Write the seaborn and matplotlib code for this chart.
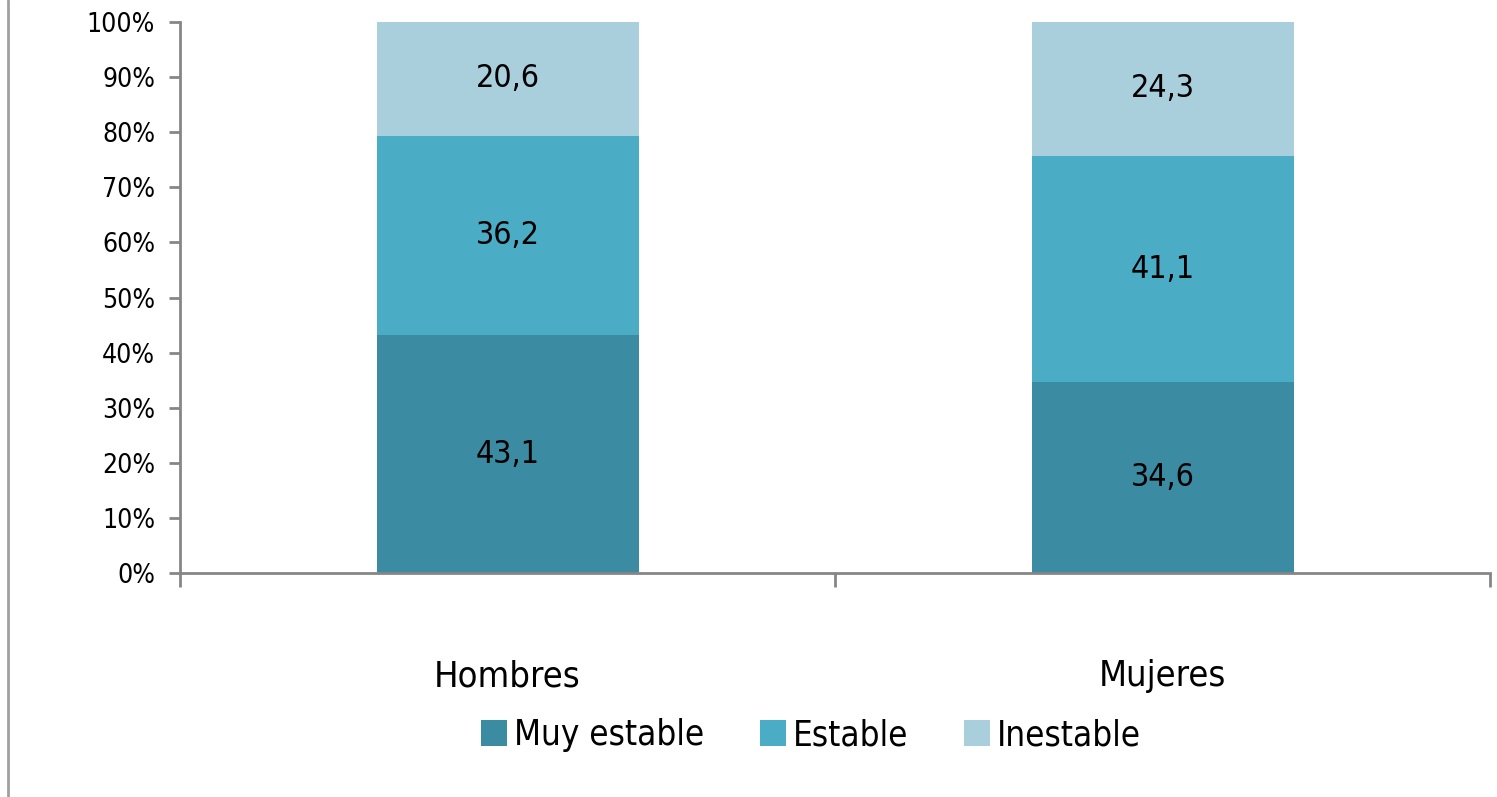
import matplotlib
matplotlib.use("Agg")
import matplotlib.pyplot as plt
import seaborn as sns
import numpy as np
import pandas as pd
from matplotlib.lines import Line2D
from matplotlib.patches import Patch

categories = ["Hombres", "Mujeres"]
series_names = ["Muy estable", "Estable", "Inestable"]
muy_estable = [43.1, 34.6]
estable = [36.2, 41.1]
inestable = [20.6, 24.3]
colors = ["#3B8BA3", "#4BACC6", "#A9CFDD"]
ytick_labels = ["0%", "10%", "20%", "30%", "40%", "50%", "60%", "70%", "80%", "90%", "100%"]

sns.set_theme(style="white")
plt.rcParams['font.family'] = ['DejaVu Sans']
plt.rcParams['font.stretch'] = 'condensed'
plt.rcParams['text.color'] = 'black'
plt.rcParams['xtick.labelcolor'] = 'black'
plt.rcParams['ytick.labelcolor'] = 'black'

fig = plt.figure(figsize=(14.97, 7.97), dpi=100)
ax = fig.add_axes([180/1497, 1-573/797, (1490-180)/1497, (573-22)/797])

vals = np.array([muy_estable, estable, inestable])
totals = vals.sum(axis=0)
pct = vals / totals * 100
cum = np.cumsum(pct, axis=0)

# draw from top cumulative to bottom so lower layers cover upper ones
for i in reversed(range(3)):
    df = pd.DataFrame({"cat": categories, "v": cum[i]})
    sns.barplot(data=df, x="cat", y="v", color=colors[i], width=0.4,
                saturation=1, ax=ax, linewidth=0)

for i in range(3):
    for j in range(2):
        base = cum[i][j] - pct[i][j]
        ax.text(j, base + pct[i][j] / 2, f"{vals[i][j]:.1f}".replace(".", ","),
                ha="center", va="center", fontsize=23, color="black")

ax.set_xlim(-0.5, 1.5)
ax.set_ylim(0, 100)
ax.set_yticks(np.arange(0, 101, 10))
ax.set_yticklabels(ytick_labels, fontsize=19)
ax.set_xticks([0, 1])
ax.set_xticklabels(categories, fontsize=26)
ax.set_xticks([-0.5, 0.5, 1.5], minor=True)
ax.set_xlabel("")
ax.set_ylabel("")

spine_c = "#868686"
for s in ["top", "right"]:
    ax.spines[s].set_visible(False)
for s in ["left", "bottom"]:
    ax.spines[s].set_color(spine_c)
    ax.spines[s].set_linewidth(2)
ax.tick_params(axis="y", which="major", left=True, length=8, width=2, color=spine_c, pad=10)
ax.tick_params(axis="x", which="major", bottom=False, length=0, pad=62)
ax.tick_params(axis="x", which="minor", bottom=True, length=10, width=2, color=spine_c, direction="out")

# outer left border line of the chart area
fig.add_artist(Line2D([8/1497, 8/1497], [0, 1], transform=fig.transFigure,
                      color="#A0A0A0", linewidth=2))

handles = [Patch(facecolor=c, edgecolor="none") for c in colors]
fig.legend(handles, series_names, loc="center", bbox_to_anchor=(811/1497, 1-735/797),
           ncol=3, frameon=False, fontsize=25, handlelength=0.75, handleheight=0.75,
           handletextpad=0.2, columnspacing=1.6)

fig.savefig("out.png", dpi=100)
